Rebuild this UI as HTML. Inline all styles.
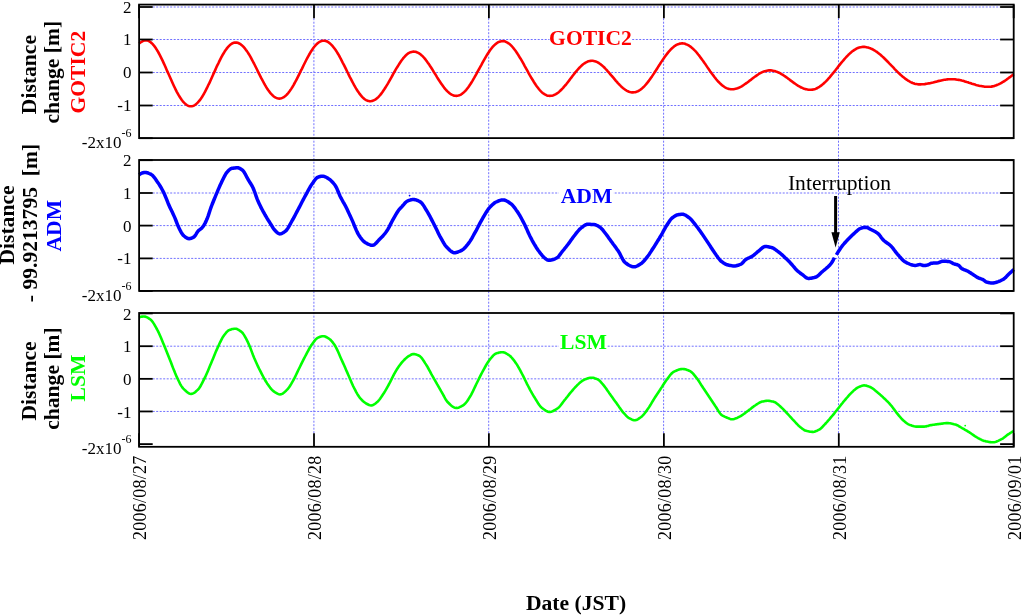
<!DOCTYPE html><html><head><meta charset="utf-8"><style>html,body{margin:0;padding:0;background:#fff;}svg{display:block;will-change:transform;}text{font-family:"Liberation Serif",serif;}</style></head><body>
<svg width="1024" height="616" viewBox="0 0 1024 616">
<rect width="1024" height="616" fill="#fff"/>
<line x1="152.7" y1="39.50" x2="1000.1" y2="39.50" stroke="#7070ff" stroke-width="1" stroke-dasharray="2 1.5"/>
<line x1="152.7" y1="72.50" x2="1000.1" y2="72.50" stroke="#7070ff" stroke-width="1" stroke-dasharray="2 1.5"/>
<line x1="152.7" y1="105.50" x2="1000.1" y2="105.50" stroke="#7070ff" stroke-width="1" stroke-dasharray="2 1.5"/>
<line x1="152.7" y1="193.00" x2="1000.1" y2="193.00" stroke="#7070ff" stroke-width="1" stroke-dasharray="2 1.5"/>
<line x1="152.7" y1="225.60" x2="1000.1" y2="225.60" stroke="#7070ff" stroke-width="1" stroke-dasharray="2 1.5"/>
<line x1="152.7" y1="258.40" x2="1000.1" y2="258.40" stroke="#7070ff" stroke-width="1" stroke-dasharray="2 1.5"/>
<line x1="152.7" y1="346.20" x2="1000.1" y2="346.20" stroke="#7070ff" stroke-width="1" stroke-dasharray="2 1.5"/>
<line x1="152.7" y1="378.85" x2="1000.1" y2="378.85" stroke="#7070ff" stroke-width="1" stroke-dasharray="2 1.5"/>
<line x1="152.7" y1="411.45" x2="1000.1" y2="411.45" stroke="#7070ff" stroke-width="1" stroke-dasharray="2 1.5"/>
<line x1="152.7" y1="7.00" x2="1000.1" y2="7.00" stroke="#7070ff" stroke-width="1" stroke-dasharray="2 1.5"/>
<line x1="313.90" y1="18.2" x2="313.90" y2="433.2" stroke="#7070ff" stroke-width="1" stroke-dasharray="2 1.5"/>
<line x1="488.70" y1="18.2" x2="488.70" y2="433.2" stroke="#7070ff" stroke-width="1" stroke-dasharray="2 1.5"/>
<line x1="663.60" y1="18.2" x2="663.60" y2="433.2" stroke="#7070ff" stroke-width="1" stroke-dasharray="2 1.5"/>
<line x1="838.50" y1="18.2" x2="838.50" y2="433.2" stroke="#7070ff" stroke-width="1" stroke-dasharray="2 1.5"/>
<rect x="549.5" y="28" width="82.5" height="19" fill="#fff"/>
<rect x="559" y="186" width="54.5" height="18" fill="#fff"/>
<rect x="559" y="332" width="48" height="18" fill="#fff"/>
<polyline points="139.1,43.6 140.2,42.7 141.3,42.0 142.4,41.3 143.5,40.7 144.6,40.4 145.7,40.3 146.7,40.4 147.7,40.6 148.7,41.0 149.7,41.6 150.7,42.3 151.7,43.2 152.7,44.2 153.7,45.3 154.7,46.6 155.7,48.0 156.7,49.6 157.7,51.2 158.7,53.0 159.7,54.8 160.7,56.8 161.7,58.8 162.7,60.9 163.7,63.1 164.7,65.3 165.7,67.6 166.7,69.9 167.7,72.1 168.8,74.5 169.8,76.7 170.8,79.0 171.8,81.3 172.8,83.5 173.8,85.7 174.8,87.8 175.8,89.8 176.8,91.8 177.8,93.6 178.8,95.4 179.8,97.0 180.8,98.6 181.8,100.0 182.8,101.3 183.8,102.4 184.8,103.4 185.8,104.3 186.8,105.0 187.8,105.6 188.8,106.0 189.8,106.2 190.8,106.3 191.8,106.2 192.8,106.0 193.9,105.6 194.9,105.0 195.9,104.3 196.9,103.4 197.9,102.4 199.0,101.2 200.0,99.9 201.0,98.5 202.0,97.0 203.0,95.3 204.1,93.5 205.1,91.6 206.1,89.7 207.1,87.7 208.1,85.5 209.2,83.4 210.2,81.2 211.2,78.9 212.2,76.7 213.2,74.4 214.3,72.1 215.3,69.9 216.3,67.6 217.3,65.4 218.4,63.3 219.4,61.1 220.4,59.1 221.4,57.2 222.4,55.3 223.5,53.5 224.5,51.8 225.5,50.3 226.5,48.9 227.5,47.6 228.6,46.4 229.6,45.4 230.6,44.5 231.6,43.8 232.6,43.2 233.7,42.8 234.7,42.6 235.7,42.5 236.7,42.6 237.7,42.8 238.7,43.2 239.8,43.7 240.8,44.4 241.8,45.2 242.8,46.1 243.8,47.2 244.8,48.3 245.8,49.7 246.9,51.1 247.9,52.6 248.9,54.2 249.9,55.9 250.9,57.7 251.9,59.6 252.9,61.5 254.0,63.5 255.0,65.5 256.0,67.5 257.0,69.5 258.0,71.6 259.0,73.6 260.0,75.6 261.0,77.6 262.1,79.6 263.1,81.5 264.1,83.4 265.1,85.2 266.1,86.9 267.1,88.5 268.1,90.0 269.2,91.4 270.2,92.8 271.2,93.9 272.2,95.0 273.2,95.9 274.2,96.7 275.2,97.4 276.3,97.9 277.3,98.3 278.3,98.5 279.3,98.6 280.3,98.5 281.3,98.3 282.3,97.9 283.3,97.4 284.3,96.8 285.3,96.0 286.3,95.1 287.4,94.0 288.4,92.8 289.4,91.5 290.4,90.1 291.4,88.6 292.4,87.0 293.4,85.3 294.4,83.5 295.4,81.7 296.4,79.8 297.4,77.8 298.4,75.8 299.4,73.8 300.4,71.7 301.5,69.7 302.5,67.6 303.5,65.5 304.5,63.5 305.5,61.5 306.5,59.5 307.5,57.6 308.5,55.8 309.5,54.0 310.5,52.3 311.5,50.7 312.5,49.2 313.5,47.8 314.5,46.5 315.5,45.3 316.6,44.2 317.6,43.3 318.6,42.5 319.6,41.9 320.6,41.4 321.6,41.0 322.6,40.8 323.6,40.7 324.6,40.8 325.6,41.0 326.6,41.3 327.7,41.8 328.7,42.4 329.7,43.2 330.7,44.1 331.7,45.1 332.7,46.2 333.7,47.5 334.7,48.8 335.8,50.3 336.8,51.9 337.8,53.5 338.8,55.2 339.8,57.0 340.8,58.9 341.8,60.8 342.8,62.8 343.9,64.8 344.9,66.8 345.9,68.9 346.9,71.0 347.9,73.0 348.9,75.1 349.9,77.1 351.0,79.1 352.0,81.1 353.0,83.0 354.0,84.9 355.0,86.7 356.0,88.4 357.0,90.0 358.0,91.6 359.1,93.1 360.1,94.4 361.1,95.7 362.1,96.8 363.1,97.8 364.1,98.7 365.1,99.5 366.1,100.1 367.2,100.6 368.2,100.9 369.2,101.1 370.2,101.2 371.2,101.1 372.2,100.9 373.2,100.6 374.2,100.1 375.2,99.6 376.3,98.9 377.3,98.0 378.3,97.1 379.3,96.0 380.3,94.9 381.3,93.6 382.3,92.3 383.3,90.8 384.3,89.3 385.3,87.7 386.3,86.1 387.4,84.4 388.4,82.7 389.4,80.9 390.4,79.1 391.4,77.3 392.4,75.5 393.4,73.7 394.4,71.9 395.4,70.1 396.4,68.4 397.5,66.7 398.5,65.1 399.5,63.5 400.5,62.0 401.5,60.5 402.5,59.2 403.5,57.9 404.5,56.8 405.5,55.7 406.5,54.8 407.5,53.9 408.6,53.2 409.6,52.7 410.6,52.2 411.6,51.9 412.6,51.7 413.6,51.6 414.6,51.7 415.6,51.8 416.7,52.2 417.7,52.6 418.7,53.1 419.7,53.8 420.7,54.6 421.7,55.4 422.8,56.4 423.8,57.5 424.8,58.7 425.8,59.9 426.8,61.3 427.8,62.7 428.9,64.1 429.9,65.7 430.9,67.2 431.9,68.8 432.9,70.4 433.9,72.1 435.0,73.8 436.0,75.4 437.0,77.1 438.0,78.7 439.0,80.3 440.0,81.8 441.1,83.4 442.1,84.8 443.1,86.2 444.1,87.6 445.1,88.8 446.1,90.0 447.2,91.1 448.2,92.1 449.2,92.9 450.2,93.7 451.2,94.4 452.2,94.9 453.2,95.3 454.3,95.7 455.3,95.8 456.3,95.9 457.3,95.8 458.3,95.6 459.3,95.3 460.3,94.9 461.3,94.3 462.3,93.6 463.3,92.8 464.3,91.9 465.3,90.9 466.3,89.8 467.3,88.5 468.3,87.2 469.3,85.8 470.3,84.3 471.3,82.7 472.3,81.1 473.3,79.4 474.3,77.7 475.3,75.9 476.3,74.1 477.3,72.2 478.3,70.4 479.4,68.5 480.4,66.6 481.4,64.8 482.4,62.9 483.4,61.1 484.4,59.3 485.4,57.6 486.4,55.9 487.4,54.3 488.4,52.7 489.4,51.2 490.4,49.8 491.4,48.5 492.4,47.2 493.4,46.1 494.4,45.1 495.4,44.2 496.4,43.4 497.4,42.7 498.4,42.1 499.4,41.7 500.4,41.4 501.4,41.2 502.4,41.1 503.4,41.2 504.4,41.3 505.4,41.6 506.4,42.1 507.4,42.6 508.5,43.3 509.5,44.0 510.5,44.9 511.5,45.9 512.5,47.0 513.5,48.2 514.5,49.5 515.5,50.8 516.5,52.2 517.5,53.8 518.5,55.3 519.5,57.0 520.6,58.7 521.6,60.4 522.6,62.1 523.6,63.9 524.6,65.8 525.6,67.6 526.6,69.4 527.6,71.2 528.6,73.1 529.6,74.9 530.6,76.6 531.6,78.3 532.7,80.0 533.7,81.7 534.7,83.2 535.7,84.8 536.7,86.2 537.7,87.5 538.7,88.8 539.7,90.0 540.7,91.1 541.7,92.1 542.7,93.0 543.7,93.7 544.8,94.4 545.8,94.9 546.8,95.4 547.8,95.7 548.8,95.8 549.8,95.9 550.8,95.8 551.8,95.7 552.9,95.4 553.9,95.1 554.9,94.6 555.9,94.1 557.0,93.4 558.0,92.7 559.0,91.9 560.0,91.0 561.0,90.0 562.1,89.0 563.1,87.9 564.1,86.7 565.1,85.5 566.2,84.3 567.2,83.0 568.2,81.7 569.2,80.4 570.2,79.0 571.3,77.7 572.3,76.3 573.3,75.0 574.3,73.7 575.3,72.4 576.4,71.2 577.4,70.0 578.4,68.8 579.4,67.7 580.5,66.7 581.5,65.7 582.5,64.8 583.5,64.0 584.5,63.3 585.6,62.6 586.6,62.1 587.6,61.6 588.6,61.3 589.7,61.0 590.7,60.9 591.7,60.8 592.7,60.8 593.7,61.0 594.7,61.2 595.7,61.5 596.7,61.9 597.7,62.4 598.8,63.0 599.8,63.7 600.8,64.4 601.8,65.2 602.8,66.1 603.8,67.0 604.8,68.0 605.8,69.1 606.8,70.1 607.8,71.3 608.8,72.4 609.8,73.6 610.8,74.8 611.8,76.0 612.9,77.2 613.9,78.4 614.9,79.6 615.9,80.8 616.9,81.9 617.9,83.1 618.9,84.1 619.9,85.2 620.9,86.2 621.9,87.1 622.9,88.0 623.9,88.8 624.9,89.5 625.9,90.2 627.0,90.8 628.0,91.3 629.0,91.7 630.0,92.0 631.0,92.2 632.0,92.4 633.0,92.4 634.0,92.3 635.0,92.2 636.0,91.9 637.0,91.6 638.0,91.2 639.0,90.6 640.0,90.0 641.0,89.2 642.0,88.4 643.0,87.5 644.0,86.6 645.0,85.5 646.0,84.4 647.0,83.2 648.0,81.9 649.0,80.6 650.0,79.2 651.0,77.8 652.0,76.4 653.0,74.9 654.0,73.4 655.0,71.8 656.0,70.3 657.0,68.7 658.0,67.1 659.0,65.5 660.0,64.0 661.0,62.4 662.0,60.9 663.0,59.4 664.0,58.0 665.0,56.6 666.0,55.2 667.0,53.9 668.0,52.6 669.0,51.4 670.0,50.3 671.0,49.2 672.0,48.3 673.0,47.4 674.0,46.6 675.0,45.8 676.0,45.2 677.0,44.6 678.0,44.2 679.0,43.9 680.0,43.6 681.0,43.5 682.0,43.4 683.0,43.4 684.0,43.6 685.0,43.8 686.0,44.2 687.1,44.6 688.1,45.1 689.1,45.7 690.1,46.4 691.1,47.1 692.1,48.0 693.1,48.9 694.1,49.9 695.2,50.9 696.2,52.0 697.2,53.2 698.2,54.5 699.2,55.7 700.2,57.1 701.2,58.4 702.2,59.8 703.3,61.2 704.3,62.7 705.3,64.1 706.3,65.6 707.3,67.1 708.3,68.6 709.3,70.0 710.3,71.5 711.4,72.9 712.4,74.3 713.4,75.6 714.4,77.0 715.4,78.2 716.4,79.5 717.4,80.7 718.4,81.8 719.5,82.8 720.5,83.8 721.5,84.7 722.5,85.6 723.5,86.3 724.5,87.0 725.5,87.6 726.5,88.1 727.6,88.5 728.6,88.9 729.6,89.1 730.6,89.3 731.6,89.3 732.6,89.3 733.6,89.2 734.6,89.0 735.6,88.8 736.6,88.5 737.6,88.2 738.7,87.8 739.7,87.3 740.7,86.8 741.7,86.3 742.7,85.7 743.7,85.0 744.7,84.3 745.7,83.6 746.7,82.9 747.7,82.2 748.7,81.4 749.7,80.6 750.8,79.9 751.8,79.1 752.8,78.3 753.8,77.5 754.8,76.8 755.8,76.1 756.8,75.4 757.8,74.7 758.8,74.0 759.8,73.4 760.8,72.9 761.8,72.4 762.8,71.9 763.9,71.5 764.9,71.2 765.9,70.9 766.9,70.7 767.9,70.5 768.9,70.4 769.9,70.4 770.9,70.4 771.9,70.5 772.9,70.7 773.9,70.9 775.0,71.1 776.0,71.5 777.0,71.8 778.0,72.3 779.0,72.7 780.0,73.2 781.0,73.8 782.0,74.4 783.1,75.0 784.1,75.7 785.1,76.4 786.1,77.1 787.1,77.8 788.1,78.6 789.1,79.3 790.1,80.1 791.2,80.9 792.2,81.6 793.2,82.4 794.2,83.1 795.2,83.8 796.2,84.5 797.2,85.2 798.2,85.8 799.3,86.4 800.3,87.0 801.3,87.5 802.3,87.9 803.3,88.4 804.3,88.7 805.3,89.1 806.4,89.3 807.4,89.5 808.4,89.7 809.4,89.8 810.4,89.8 811.4,89.8 812.4,89.6 813.4,89.5 814.4,89.2 815.4,88.9 816.4,88.5 817.4,88.0 818.4,87.4 819.4,86.8 820.4,86.1 821.4,85.4 822.4,84.6 823.4,83.7 824.4,82.8 825.4,81.9 826.4,80.9 827.4,79.8 828.4,78.7 829.4,77.6 830.4,76.4 831.4,75.2 832.4,74.0 833.4,72.8 834.4,71.5 835.4,70.3 836.4,69.0 837.4,67.7 838.4,66.4 839.4,65.2 840.4,63.9 841.4,62.7 842.4,61.5 843.4,60.3 844.4,59.1 845.4,58.0 846.4,56.9 847.4,55.8 848.4,54.8 849.4,53.9 850.4,53.0 851.4,52.1 852.4,51.3 853.4,50.6 854.4,49.9 855.4,49.3 856.4,48.7 857.4,48.2 858.4,47.8 859.4,47.5 860.4,47.2 861.4,47.1 862.4,46.9 863.4,46.9 864.4,46.9 865.4,47.0 866.4,47.2 867.4,47.4 868.4,47.6 869.4,48.0 870.4,48.3 871.4,48.8 872.4,49.2 873.4,49.8 874.4,50.4 875.4,51.0 876.4,51.7 877.5,52.4 878.5,53.2 879.5,54.0 880.5,54.8 881.5,55.7 882.5,56.6 883.5,57.5 884.5,58.5 885.5,59.5 886.5,60.5 887.5,61.5 888.5,62.5 889.5,63.6 890.5,64.6 891.5,65.7 892.5,66.7 893.5,67.7 894.5,68.8 895.5,69.8 896.5,70.8 897.5,71.8 898.5,72.8 899.5,73.8 900.5,74.7 901.5,75.6 902.5,76.5 903.5,77.3 904.5,78.1 905.5,78.9 906.6,79.6 907.6,80.3 908.6,80.9 909.6,81.5 910.6,82.1 911.6,82.5 912.6,83.0 913.6,83.3 914.6,83.7 915.6,83.9 916.6,84.1 917.6,84.3 918.6,84.4 919.6,84.4 920.6,84.4 921.7,84.3 922.7,84.3 923.7,84.2 924.7,84.1 925.8,83.9 926.8,83.8 927.8,83.6 928.9,83.4 929.9,83.2 930.9,82.9 931.9,82.7 933.0,82.5 934.0,82.2 935.0,81.9 936.1,81.7 937.1,81.4 938.1,81.1 939.2,80.9 940.2,80.7 941.2,80.4 942.2,80.2 943.3,80.0 944.3,79.8 945.3,79.7 946.4,79.5 947.4,79.4 948.4,79.3 949.4,79.3 950.5,79.2 951.5,79.2 952.5,79.2 953.5,79.3 954.6,79.3 955.6,79.4 956.6,79.6 957.6,79.7 958.7,79.9 959.7,80.1 960.7,80.3 961.7,80.6 962.7,80.8 963.8,81.1 964.8,81.4 965.8,81.7 966.8,82.0 967.9,82.3 968.9,82.7 969.9,83.0 970.9,83.3 971.9,83.7 973.0,84.0 974.0,84.3 975.0,84.6 976.0,84.9 977.1,85.2 978.1,85.4 979.1,85.7 980.1,85.9 981.1,86.1 982.2,86.3 983.2,86.4 984.2,86.6 985.2,86.7 986.3,86.7 987.3,86.8 988.3,86.8 989.3,86.8 990.3,86.7 991.3,86.6 992.4,86.4 993.4,86.2 994.4,85.9 995.4,85.6 996.4,85.2 997.4,84.8 998.5,84.4 999.5,83.9 1000.5,83.4 1001.5,82.8 1002.5,82.2 1003.5,81.6 1004.6,81.0 1005.6,80.3 1006.6,79.6 1007.6,78.8 1008.6,78.1 1009.6,77.3 1010.7,76.6 1011.7,75.8 1012.7,75.0 1013.7,74.2" fill="none" stroke="#ff0000" stroke-width="2.6" stroke-linejoin="round"/>
<polyline points="139.1,174.8 140.1,174.1 141.1,173.5 142.1,173.0 143.1,172.7 144.1,172.5 145.1,172.4 146.1,172.5 147.1,172.7 148.1,173.0 149.1,173.5 150.1,173.9 151.1,174.4 152.1,175.1 153.1,176.1 154.1,177.2 155.1,178.6 156.1,180.0 157.1,181.5 158.1,182.9 159.1,184.4 160.1,186.0 161.1,187.7 162.1,189.5 163.1,191.4 164.1,193.4 165.1,195.7 166.1,198.1 167.1,200.7 168.1,203.2 169.1,205.5 170.1,207.7 171.1,209.8 172.1,211.8 173.1,213.9 174.1,216.1 175.1,218.4 176.1,221.0 177.1,223.6 178.1,226.1 179.1,228.2 180.1,230.2 181.1,232.1 182.1,233.8 183.1,235.1 184.1,236.0 185.1,236.8 186.1,237.6 187.1,238.2 188.1,238.6 189.1,238.7 190.1,238.6 191.1,238.3 192.1,237.9 193.1,237.4 194.1,236.9 195.1,235.7 196.1,234.1 197.1,232.4 198.1,231.0 199.1,230.1 200.1,229.4 201.1,228.6 202.1,227.7 203.1,226.5 204.1,224.9 205.1,223.1 206.1,221.1 207.1,218.8 208.1,216.1 209.1,213.1 210.1,210.0 211.1,207.2 212.1,204.5 213.1,202.0 214.1,199.5 215.1,197.1 216.1,194.7 217.1,192.3 218.1,189.9 219.1,187.6 220.1,185.3 221.1,183.2 222.1,181.1 223.1,179.0 224.1,177.0 225.1,175.1 226.1,173.4 227.1,172.1 228.1,171.0 229.1,170.0 230.1,169.2 231.1,168.6 232.1,168.3 233.1,168.2 234.1,168.0 235.1,167.9 236.1,167.8 237.1,167.8 238.1,167.8 239.1,168.1 240.1,168.6 241.1,169.2 242.1,169.9 243.1,170.8 244.1,172.1 245.1,173.8 246.1,175.8 247.1,177.7 248.1,179.5 249.1,181.1 250.1,182.7 251.1,184.3 252.1,186.0 253.1,188.0 254.1,190.5 255.1,193.2 256.1,196.1 257.1,198.9 258.1,201.3 259.1,203.5 260.1,205.6 261.1,207.6 262.1,209.5 263.1,211.4 264.1,213.2 265.1,215.0 266.1,216.7 267.1,218.4 268.1,220.0 269.1,221.5 270.1,223.1 271.1,224.7 272.1,226.4 273.1,228.0 274.1,229.4 275.1,230.5 276.1,231.6 277.1,232.5 278.1,233.3 279.1,233.8 280.1,233.9 281.1,233.7 282.1,233.3 283.1,232.8 284.1,232.1 285.1,231.4 286.1,230.6 287.1,229.4 288.1,227.9 289.1,226.2 290.1,224.3 291.1,222.5 292.1,220.7 293.1,219.0 294.1,217.1 295.1,215.2 296.1,213.3 297.1,211.4 298.1,209.5 299.1,207.6 300.1,205.7 301.1,203.7 302.1,201.8 303.1,199.9 304.1,198.0 305.1,196.2 306.1,194.4 307.1,192.5 308.1,190.6 309.1,188.8 310.1,187.0 311.1,185.4 312.1,183.9 313.1,182.5 314.1,181.0 315.1,179.7 316.1,178.5 317.1,177.6 318.1,177.1 319.1,176.8 320.1,176.5 321.1,176.3 322.1,176.2 323.1,176.2 324.1,176.4 325.1,176.8 326.1,177.3 327.1,177.8 328.1,178.5 329.1,179.1 330.1,179.8 331.1,180.7 332.1,181.7 333.1,182.8 334.1,184.0 335.1,185.3 336.1,187.0 337.1,189.1 338.1,191.5 339.1,193.9 340.1,196.2 341.1,198.2 342.1,200.0 343.1,201.8 344.1,203.5 345.1,205.3 346.1,207.3 347.1,209.3 348.1,211.4 349.1,213.6 350.1,215.7 351.1,217.9 352.1,220.1 353.1,222.4 354.1,224.8 355.1,227.3 356.1,229.7 357.1,231.9 358.1,233.9 359.1,235.5 360.1,237.0 361.1,238.4 362.1,239.6 363.1,240.7 364.1,241.7 365.1,242.4 366.1,243.0 367.1,243.6 368.1,244.1 369.1,244.5 370.1,244.9 371.1,245.2 372.1,245.3 373.1,245.2 374.1,244.8 375.1,244.0 376.1,243.1 377.1,242.0 378.1,240.9 379.1,239.8 380.1,238.8 381.1,237.8 382.1,236.8 383.1,235.7 384.1,234.5 385.1,233.3 386.1,232.0 387.1,230.6 388.1,228.9 389.1,227.1 390.1,225.1 391.1,223.1 392.1,221.2 393.1,219.4 394.1,217.6 395.1,215.9 396.1,214.2 397.1,212.5 398.1,211.0 399.1,209.6 400.1,208.5 401.1,207.4 402.1,206.4 403.1,205.2 404.1,204.1 405.1,202.9 406.1,202.0 407.1,201.2 408.1,200.7 409.1,200.4 410.1,200.1 411.1,199.8 412.1,199.6 413.1,199.5 414.1,199.5 415.1,199.7 416.1,199.9 417.1,200.3 418.1,200.7 419.1,201.2 420.1,201.8 421.1,202.5 422.1,203.5 423.1,204.9 424.1,206.4 425.1,208.1 426.1,209.8 427.1,211.4 428.1,213.1 429.1,214.9 430.1,216.7 431.1,218.6 432.1,220.6 433.1,222.5 434.1,224.5 435.1,226.5 436.1,228.5 437.1,230.6 438.1,232.7 439.1,234.7 440.1,236.6 441.1,238.4 442.1,240.2 443.1,242.0 444.1,243.6 445.1,245.2 446.1,246.5 447.1,247.5 448.1,248.5 449.1,249.6 450.1,250.5 451.1,251.3 452.1,252.0 453.1,252.5 454.1,252.7 455.1,252.7 456.1,252.5 457.1,252.3 458.1,251.9 459.1,251.5 460.1,251.1 461.1,250.6 462.1,250.1 463.1,249.4 464.1,248.6 465.1,247.6 466.1,246.4 467.1,245.2 468.1,243.9 469.1,242.6 470.1,241.1 471.1,239.5 472.1,237.8 473.1,236.0 474.1,234.2 475.1,232.4 476.1,230.6 477.1,228.7 478.1,226.8 479.1,224.9 480.1,222.9 481.1,221.1 482.1,219.3 483.1,217.5 484.1,215.8 485.1,214.1 486.1,212.5 487.1,210.9 488.1,209.4 489.1,208.2 490.1,207.0 491.1,206.0 492.1,205.0 493.1,204.1 494.1,203.2 495.1,202.5 496.1,202.0 497.1,201.6 498.1,201.1 499.1,200.7 500.1,200.4 501.1,200.1 502.1,200.0 503.1,199.9 504.1,200.0 505.1,200.3 506.1,200.7 507.1,201.2 508.1,201.8 509.1,202.5 510.1,203.2 511.1,203.9 512.1,204.8 513.1,205.9 514.1,207.1 515.1,208.4 516.1,209.9 517.1,211.3 518.1,212.8 519.1,214.4 520.1,216.0 521.1,217.8 522.1,219.7 523.1,221.6 524.1,223.5 525.1,225.5 526.1,227.7 527.1,229.9 528.1,232.2 529.1,234.4 530.1,236.5 531.1,238.4 532.1,240.3 533.1,242.1 534.1,243.9 535.1,245.5 536.1,247.2 537.1,248.7 538.1,250.2 539.1,251.5 540.1,252.9 541.1,254.2 542.1,255.4 543.1,256.5 544.1,257.5 545.1,258.3 546.1,259.1 547.1,259.8 548.1,260.2 549.1,260.3 550.1,260.2 551.1,260.1 552.1,259.8 553.1,259.5 554.1,259.2 555.1,258.8 556.1,258.3 557.1,257.8 558.1,257.0 559.1,255.7 560.1,254.4 561.1,253.0 562.1,251.7 563.1,250.5 564.1,249.3 565.1,248.0 566.1,246.8 567.1,245.5 568.1,244.2 569.1,242.9 570.1,241.5 571.1,240.1 572.1,238.7 573.1,237.3 574.1,236.0 575.1,234.7 576.1,233.4 577.1,232.2 578.1,231.0 579.1,229.8 580.1,228.8 581.1,228.0 582.1,227.2 583.1,226.5 584.1,225.7 585.1,225.1 586.1,224.6 587.1,224.3 588.1,224.3 589.1,224.3 590.1,224.3 591.1,224.4 592.1,224.4 593.1,224.5 594.1,224.6 595.1,224.7 596.1,225.1 597.1,225.5 598.1,226.1 599.1,226.7 600.1,227.3 601.1,228.2 602.1,229.2 603.1,230.4 604.1,231.7 605.1,233.0 606.1,234.3 607.1,235.6 608.1,237.0 609.1,238.4 610.1,239.8 611.1,241.2 612.1,242.6 613.1,244.0 614.1,245.3 615.1,246.6 616.1,248.0 617.1,249.4 618.1,250.8 619.1,252.4 620.1,254.2 621.1,256.2 622.1,258.2 623.1,260.0 624.1,261.5 625.1,262.5 626.1,263.3 627.1,264.0 628.1,264.7 629.1,265.3 630.1,265.8 631.1,266.2 632.1,266.6 633.1,266.8 634.1,266.8 635.1,266.7 636.1,266.4 637.1,266.0 638.1,265.4 639.1,264.9 640.1,264.2 641.1,263.6 642.1,262.8 643.1,261.9 644.1,260.8 645.1,259.6 646.1,258.4 647.1,257.1 648.1,255.8 649.1,254.4 650.1,252.9 651.1,251.4 652.1,249.8 653.1,248.2 654.1,246.7 655.1,245.1 656.1,243.5 657.1,241.9 658.1,240.3 659.1,238.7 660.1,237.0 661.1,235.3 662.1,233.6 663.1,231.7 664.1,229.9 665.1,228.1 666.1,226.4 667.1,224.8 668.1,223.2 669.1,221.7 670.1,220.2 671.1,219.0 672.1,218.0 673.1,217.3 674.1,216.5 675.1,215.9 676.1,215.4 677.1,214.9 678.1,214.7 679.1,214.5 680.1,214.4 681.1,214.3 682.1,214.3 683.1,214.3 684.1,214.6 685.1,215.0 686.1,215.6 687.1,216.3 688.1,217.0 689.1,217.7 690.1,218.5 691.1,219.5 692.1,220.6 693.1,221.9 694.1,223.1 695.1,224.4 696.1,225.7 697.1,227.0 698.1,228.3 699.1,229.7 700.1,231.1 701.1,232.5 702.1,233.9 703.1,235.4 704.1,236.9 705.1,238.4 706.1,239.9 707.1,241.4 708.1,242.9 709.1,244.4 710.1,245.9 711.1,247.5 712.1,249.0 713.1,250.6 714.1,252.0 715.1,253.4 716.1,254.9 717.1,256.3 718.1,257.7 719.1,259.0 720.1,260.2 721.1,261.2 722.1,261.9 723.1,262.7 724.1,263.3 725.1,263.9 726.1,264.4 727.1,264.8 728.1,265.0 729.1,265.3 730.1,265.5 731.1,265.6 732.1,265.8 733.1,265.9 734.1,265.9 735.1,265.9 736.1,265.8 737.1,265.5 738.1,265.3 739.1,264.9 740.1,264.5 741.1,264.1 742.1,263.4 743.1,262.3 744.1,261.1 745.1,260.1 746.1,259.3 747.1,258.7 748.1,258.2 749.1,257.8 750.1,257.3 751.1,256.9 752.1,256.3 753.1,255.7 754.1,254.9 755.1,254.0 756.1,253.2 757.1,252.3 758.1,251.4 759.1,250.7 760.1,249.8 761.1,248.9 762.1,248.0 763.1,247.3 764.1,246.7 765.1,246.5 766.1,246.5 767.1,246.6 768.1,246.8 769.1,247.0 770.1,247.2 771.1,247.4 772.1,247.7 773.1,248.1 774.1,248.7 775.1,249.4 776.1,250.1 777.1,250.9 778.1,251.6 779.1,252.4 780.1,253.2 781.1,254.0 782.1,254.9 783.1,255.8 784.1,256.7 785.1,257.7 786.1,258.6 787.1,259.6 788.1,260.6 789.1,261.6 790.1,262.6 791.1,263.7 792.1,264.8 793.1,266.0 794.1,267.2 795.1,268.4 796.1,269.5 797.1,270.5 798.1,271.4 799.1,272.2 800.1,273.0 801.1,273.7 802.1,274.4 803.1,275.2 804.1,276.0 805.1,276.8 806.1,277.6 807.1,278.1 808.1,278.4 809.1,278.4 810.1,278.3 811.1,278.2 812.1,278.0 813.1,277.8 814.1,277.6 815.1,277.3 816.1,277.0 817.1,276.4 818.1,275.6 819.1,274.7 820.1,273.7 821.1,272.7 822.1,271.8 823.1,271.0 824.1,270.2 825.1,269.3 826.1,268.5 827.1,267.6 828.1,266.7 829.1,265.7 830.1,264.7 831.1,263.5 832.1,262.0 833.1,260.3 834.1,258.3 834.4,257.6" fill="none" stroke="#0000ff" stroke-width="3.5" stroke-linejoin="round"/>
<polyline points="836.4,254.8 837.4,253.1 838.4,251.5 839.4,250.0 840.4,248.5 841.4,247.1 842.4,245.7 843.4,244.5 844.4,243.3 845.4,242.2 846.4,241.1 847.4,240.0 848.4,239.0 849.4,238.0 850.4,237.0 851.4,236.0 852.4,235.0 853.4,234.1 854.4,233.2 855.4,232.3 856.4,231.4 857.4,230.5 858.4,229.6 859.4,228.9 860.4,228.5 861.4,228.1 862.4,227.8 863.4,227.6 864.4,227.4 865.4,227.3 866.4,227.4 867.4,227.6 868.4,228.1 869.4,228.7 870.4,229.3 871.4,229.8 872.4,230.3 873.4,230.8 874.4,231.3 875.4,231.8 876.4,232.4 877.4,233.1 878.4,233.9 879.4,235.0 880.4,236.3 881.4,237.7 882.4,239.0 883.4,240.1 884.4,241.0 885.4,241.8 886.4,242.5 887.4,243.2 888.4,243.9 889.4,244.7 890.4,245.5 891.4,246.5 892.4,247.7 893.4,248.9 894.4,250.3 895.4,251.6 896.4,252.9 897.4,254.1 898.4,255.2 899.4,256.4 900.4,257.5 901.4,258.6 902.4,259.7 903.4,260.6 904.4,261.4 905.4,262.0 906.4,262.6 907.4,263.1 908.4,263.5 909.4,264.0 910.4,264.4 911.4,264.7 912.4,265.0 913.4,265.2 914.4,265.4 915.4,265.4 916.4,265.3 917.4,265.1 918.4,264.8 919.4,264.6 920.4,264.6 921.4,264.9 922.4,265.2 923.4,265.5 924.4,265.6 925.4,265.5 926.4,265.3 927.4,265.1 928.4,264.8 929.4,264.3 930.4,263.6 931.4,263.2 932.4,263.2 933.4,263.1 934.4,263.1 935.4,263.1 936.4,263.0 937.4,262.9 938.4,262.7 939.4,262.3 940.4,261.9 941.4,261.5 942.4,261.3 943.4,261.3 944.4,261.3 945.4,261.3 946.4,261.3 947.4,261.4 948.4,261.4 949.4,261.6 950.4,262.0 951.4,262.5 952.4,263.1 953.4,263.6 954.4,264.0 955.4,264.3 956.4,264.5 957.4,264.8 958.4,265.3 959.4,266.0 960.4,267.2 961.4,268.3 962.4,268.9 963.4,269.4 964.4,269.8 965.4,270.2 966.4,270.6 967.4,271.0 968.4,271.6 969.4,272.2 970.4,272.8 971.4,273.5 972.4,274.1 973.4,274.8 974.4,275.4 975.4,276.1 976.4,276.8 977.4,277.4 978.4,277.9 979.4,278.3 980.4,278.6 981.4,279.0 982.4,279.4 983.4,279.9 984.4,280.6 985.4,281.5 986.4,282.1 987.4,282.3 988.4,282.5 989.4,282.7 990.4,282.9 991.4,282.9 992.4,283.0 993.4,283.0 994.4,282.8 995.4,282.6 996.4,282.3 997.4,281.9 998.4,281.6 999.4,281.2 1000.4,280.8 1001.4,280.3 1002.4,279.8 1003.4,279.2 1004.4,278.5 1005.4,277.7 1006.4,276.6 1007.4,275.5 1008.4,274.5 1009.4,273.5 1010.4,272.6 1011.4,271.7 1012.4,270.8 1013.4,269.9 1013.7,269.6" fill="none" stroke="#0000ff" stroke-width="3.5" stroke-linejoin="round"/>
<polyline points="139.1,317.6 140.1,317.1 141.1,316.8 142.1,316.6 143.1,316.5 144.1,316.5 145.1,316.6 146.1,316.9 147.1,317.4 148.1,317.9 149.1,318.6 150.1,319.3 151.1,320.1 152.1,321.2 153.1,322.6 154.1,324.1 155.1,325.9 156.1,327.7 157.1,329.5 158.1,331.4 159.1,333.5 160.1,335.8 161.1,338.1 162.1,340.5 163.1,342.9 164.1,345.3 165.1,347.7 166.1,350.2 167.1,352.7 168.1,355.3 169.1,357.8 170.1,360.3 171.1,362.8 172.1,365.5 173.1,368.1 174.1,370.6 175.1,373.1 176.1,375.4 177.1,377.6 178.1,379.7 179.1,381.8 180.1,383.8 181.1,385.6 182.1,387.1 183.1,388.3 184.1,389.3 185.1,390.3 186.1,391.2 187.1,392.1 188.1,392.8 189.1,393.4 190.1,393.7 191.1,393.9 192.1,393.8 193.1,393.4 194.1,392.9 195.1,392.2 196.1,391.3 197.1,390.4 198.1,389.5 199.1,388.3 200.1,386.8 201.1,385.0 202.1,383.1 203.1,381.2 204.1,379.2 205.1,377.2 206.1,375.0 207.1,372.7 208.1,370.4 209.1,368.0 210.1,365.6 211.1,363.2 212.1,360.8 213.1,358.4 214.1,355.9 215.1,353.5 216.1,351.1 217.1,348.9 218.1,346.7 219.1,344.5 220.1,342.3 221.1,340.3 222.1,338.4 223.1,336.7 224.1,335.3 225.1,334.0 226.1,332.7 227.1,331.6 228.1,330.7 229.1,330.1 230.1,329.7 231.1,329.4 232.1,329.1 233.1,328.9 234.1,328.7 235.1,328.7 236.1,328.8 237.1,329.1 238.1,329.6 239.1,330.2 240.1,330.9 241.1,331.6 242.1,332.4 243.1,333.6 244.1,335.1 245.1,336.8 246.1,338.7 247.1,340.7 248.1,342.7 249.1,344.9 250.1,347.3 251.1,349.9 252.1,352.6 253.1,355.3 254.1,357.8 255.1,360.1 256.1,362.3 257.1,364.5 258.1,366.6 259.1,368.7 260.1,370.7 261.1,372.7 262.1,374.6 263.1,376.5 264.1,378.4 265.1,380.2 266.1,381.8 267.1,383.4 268.1,384.8 269.1,386.2 270.1,387.6 271.1,388.8 272.1,390.0 273.1,390.9 274.1,391.6 275.1,392.3 276.1,392.9 277.1,393.5 278.1,393.9 279.1,394.2 280.1,394.4 281.1,394.3 282.1,393.9 283.1,393.3 284.1,392.5 285.1,391.6 286.1,390.7 287.1,389.7 288.1,388.6 289.1,387.2 290.1,385.7 291.1,384.1 292.1,382.4 293.1,380.7 294.1,378.8 295.1,376.8 296.1,374.7 297.1,372.6 298.1,370.5 299.1,368.5 300.1,366.5 301.1,364.4 302.1,362.4 303.1,360.4 304.1,358.4 305.1,356.5 306.1,354.6 307.1,352.7 308.1,350.8 309.1,349.0 310.1,347.2 311.1,345.6 312.1,344.2 313.1,342.8 314.1,341.4 315.1,340.1 316.1,339.0 317.1,338.2 318.1,337.7 319.1,337.2 320.1,336.8 321.1,336.5 322.1,336.3 323.1,336.2 324.1,336.3 325.1,336.5 326.1,337.0 327.1,337.5 328.1,338.1 329.1,338.8 330.1,339.5 331.1,340.5 332.1,341.7 333.1,342.9 334.1,344.3 335.1,345.8 336.1,347.6 337.1,349.6 338.1,351.8 339.1,354.1 340.1,356.4 341.1,358.7 342.1,360.9 343.1,363.1 344.1,365.3 345.1,367.6 346.1,369.9 347.1,372.1 348.1,374.4 349.1,376.7 350.1,379.1 351.1,381.5 352.1,383.8 353.1,386.0 354.1,388.0 355.1,389.9 356.1,391.8 357.1,393.6 358.1,395.3 359.1,396.8 360.1,398.1 361.1,399.2 362.1,400.3 363.1,401.2 364.1,402.0 365.1,402.8 366.1,403.5 367.1,404.0 368.1,404.5 369.1,405.0 370.1,405.3 371.1,405.5 372.1,405.4 373.1,405.0 374.1,404.4 375.1,403.7 376.1,402.9 377.1,402.1 378.1,401.2 379.1,400.0 380.1,398.7 381.1,397.3 382.1,395.8 383.1,394.2 384.1,392.7 385.1,391.1 386.1,389.4 387.1,387.6 388.1,385.8 389.1,384.0 390.1,382.1 391.1,380.2 392.1,378.2 393.1,376.2 394.1,374.2 395.1,372.4 396.1,370.6 397.1,369.0 398.1,367.5 399.1,366.1 400.1,364.7 401.1,363.4 402.1,362.2 403.1,361.1 404.1,360.0 405.1,359.0 406.1,358.1 407.1,357.2 408.1,356.4 409.1,355.8 410.1,355.3 411.1,354.7 412.1,354.3 413.1,354.1 414.1,354.1 415.1,354.3 416.1,354.5 417.1,354.9 418.1,355.3 419.1,355.7 420.1,356.3 421.1,357.3 422.1,358.6 423.1,360.0 424.1,361.5 425.1,363.1 426.1,364.6 427.1,366.2 428.1,368.0 429.1,369.8 430.1,371.7 431.1,373.6 432.1,375.4 433.1,377.1 434.1,378.9 435.1,380.6 436.1,382.3 437.1,384.1 438.1,385.8 439.1,387.6 440.1,389.4 441.1,391.2 442.1,392.9 443.1,394.7 444.1,396.5 445.1,398.4 446.1,400.1 447.1,401.5 448.1,402.5 449.1,403.5 450.1,404.5 451.1,405.4 452.1,406.2 453.1,406.9 454.1,407.4 455.1,407.7 456.1,407.9 457.1,407.9 458.1,407.7 459.1,407.4 460.1,406.9 461.1,406.5 462.1,405.9 463.1,405.3 464.1,404.7 465.1,403.7 466.1,402.5 467.1,401.2 468.1,399.7 469.1,398.1 470.1,396.5 471.1,394.8 472.1,392.9 473.1,390.9 474.1,388.7 475.1,386.6 476.1,384.5 477.1,382.5 478.1,380.5 479.1,378.4 480.1,376.4 481.1,374.4 482.1,372.5 483.1,370.6 484.1,368.8 485.1,367.0 486.1,365.2 487.1,363.5 488.1,361.9 489.1,360.5 490.1,359.2 491.1,358.0 492.1,356.8 493.1,355.6 494.1,354.7 495.1,353.9 496.1,353.5 497.1,353.1 498.1,352.9 499.1,352.6 500.1,352.4 501.1,352.3 502.1,352.2 503.1,352.2 504.1,352.5 505.1,352.8 506.1,353.4 507.1,354.0 508.1,354.6 509.1,355.3 510.1,356.0 511.1,357.0 512.1,358.1 513.1,359.3 514.1,360.6 515.1,362.0 516.1,363.4 517.1,364.9 518.1,366.6 519.1,368.4 520.1,370.2 521.1,372.1 522.1,374.0 523.1,375.9 524.1,377.9 525.1,380.0 526.1,382.0 527.1,384.1 528.1,386.0 529.1,387.9 530.1,389.8 531.1,391.6 532.1,393.4 533.1,395.1 534.1,396.8 535.1,398.4 536.1,400.0 537.1,401.6 538.1,403.2 539.1,404.7 540.1,406.1 541.1,407.2 542.1,408.0 543.1,408.8 544.1,409.5 545.1,410.2 546.1,410.8 547.1,411.3 548.1,411.7 549.1,411.9 550.1,411.9 551.1,411.7 552.1,411.4 553.1,411.0 554.1,410.5 555.1,410.0 556.1,409.3 557.1,408.7 558.1,408.0 559.1,407.1 560.1,406.0 561.1,404.7 562.1,403.4 563.1,402.0 564.1,400.7 565.1,399.5 566.1,398.2 567.1,397.0 568.1,395.7 569.1,394.4 570.1,393.2 571.1,392.0 572.1,390.8 573.1,389.6 574.1,388.5 575.1,387.4 576.1,386.3 577.1,385.3 578.1,384.4 579.1,383.4 580.1,382.5 581.1,381.7 582.1,380.9 583.1,380.3 584.1,379.8 585.1,379.4 586.1,379.0 587.1,378.6 588.1,378.3 589.1,378.0 590.1,377.8 591.1,377.7 592.1,377.7 593.1,377.8 594.1,378.1 595.1,378.4 596.1,378.7 597.1,379.1 598.1,379.6 599.1,380.3 600.1,381.2 601.1,382.3 602.1,383.5 603.1,384.7 604.1,385.9 605.1,387.2 606.1,388.5 607.1,390.0 608.1,391.4 609.1,392.9 610.1,394.3 611.1,395.7 612.1,397.1 613.1,398.5 614.1,399.9 615.1,401.3 616.1,402.6 617.1,404.0 618.1,405.4 619.1,406.9 620.1,408.3 621.1,409.7 622.1,411.1 623.1,412.3 624.1,413.4 625.1,414.5 626.1,415.6 627.1,416.6 628.1,417.5 629.1,418.2 630.1,418.7 631.1,419.2 632.1,419.7 633.1,420.0 634.1,420.3 635.1,420.3 636.1,420.1 637.1,419.7 638.1,419.1 639.1,418.4 640.1,417.7 641.1,417.0 642.1,416.2 643.1,415.2 644.1,414.0 645.1,412.7 646.1,411.4 647.1,410.0 648.1,408.6 649.1,407.1 650.1,405.5 651.1,403.9 652.1,402.2 653.1,400.5 654.1,398.9 655.1,397.3 656.1,395.7 657.1,394.2 658.1,392.7 659.1,391.2 660.1,389.7 661.1,388.1 662.1,386.6 663.1,385.0 664.1,383.5 665.1,382.0 666.1,380.5 667.1,379.2 668.1,377.9 669.1,376.5 670.1,375.2 671.1,374.0 672.1,373.0 673.1,372.2 674.1,371.6 675.1,371.1 676.1,370.7 677.1,370.3 678.1,369.9 679.1,369.5 680.1,369.3 681.1,369.1 682.1,369.0 683.1,369.0 684.1,369.1 685.1,369.3 686.1,369.6 687.1,369.9 688.1,370.3 689.1,370.7 690.1,371.2 691.1,371.8 692.1,372.7 693.1,373.7 694.1,374.9 695.1,376.1 696.1,377.4 697.1,378.6 698.1,380.0 699.1,381.5 700.1,383.1 701.1,384.7 702.1,386.2 703.1,387.8 704.1,389.3 705.1,390.8 706.1,392.3 707.1,393.8 708.1,395.3 709.1,396.8 710.1,398.3 711.1,399.8 712.1,401.3 713.1,402.8 714.1,404.3 715.1,405.8 716.1,407.2 717.1,408.8 718.1,410.5 719.1,412.1 720.1,413.5 721.1,414.6 722.1,415.3 723.1,415.9 724.1,416.4 725.1,416.9 726.1,417.3 727.1,417.7 728.1,418.1 729.1,418.5 730.1,418.9 731.1,419.2 732.1,419.3 733.1,419.2 734.1,419.0 735.1,418.6 736.1,418.2 737.1,417.9 738.1,417.4 739.1,416.9 740.1,416.4 741.1,415.8 742.1,415.2 743.1,414.5 744.1,413.8 745.1,413.1 746.1,412.3 747.1,411.5 748.1,410.7 749.1,409.9 750.1,409.2 751.1,408.4 752.1,407.6 753.1,406.9 754.1,406.1 755.1,405.5 756.1,404.8 757.1,404.1 758.1,403.5 759.1,402.9 760.1,402.3 761.1,401.9 762.1,401.6 763.1,401.4 764.1,401.2 765.1,401.0 766.1,400.9 767.1,400.8 768.1,400.8 769.1,400.9 770.1,401.0 771.1,401.2 772.1,401.4 773.1,401.6 774.1,401.9 775.1,402.3 776.1,402.9 777.1,403.7 778.1,404.5 779.1,405.4 780.1,406.3 781.1,407.2 782.1,408.1 783.1,409.1 784.1,410.2 785.1,411.2 786.1,412.3 787.1,413.3 788.1,414.4 789.1,415.5 790.1,416.6 791.1,417.7 792.1,418.8 793.1,419.8 794.1,420.9 795.1,422.0 796.1,423.1 797.1,424.2 798.1,425.2 799.1,426.1 800.1,427.0 801.1,427.8 802.1,428.6 803.1,429.3 804.1,430.0 805.1,430.5 806.1,430.8 807.1,431.1 808.1,431.3 809.1,431.5 810.1,431.7 811.1,431.8 812.1,431.9 813.1,431.9 814.1,431.7 815.1,431.4 816.1,431.1 817.1,430.7 818.1,430.2 819.1,429.7 820.1,429.1 821.1,428.2 822.1,427.3 823.1,426.2 824.1,425.1 825.1,424.0 826.1,423.0 827.1,421.9 828.1,420.7 829.1,419.6 830.1,418.4 831.1,417.2 832.1,416.0 833.1,414.8 834.1,413.6 835.1,412.3 836.1,411.0 837.1,409.8 838.1,408.5 839.1,407.3 840.1,406.0 841.1,404.7 842.1,403.5 843.1,402.2 844.1,401.0 845.1,399.8 846.1,398.6 847.1,397.5 848.1,396.3 849.1,395.2 850.1,394.1 851.1,393.1 852.1,392.1 853.1,391.2 854.1,390.2 855.1,389.4 856.1,388.6 857.1,387.9 858.1,387.4 859.1,386.9 860.1,386.5 861.1,386.1 862.1,385.7 863.1,385.5 864.1,385.4 865.1,385.5 866.1,385.6 867.1,385.9 868.1,386.2 869.1,386.6 870.1,387.0 871.1,387.5 872.1,388.1 873.1,388.8 874.1,389.6 875.1,390.4 876.1,391.3 877.1,392.1 878.1,392.9 879.1,393.8 880.1,394.6 881.1,395.5 882.1,396.4 883.1,397.3 884.1,398.3 885.1,399.2 886.1,400.2 887.1,401.1 888.1,402.2 889.1,403.2 890.1,404.3 891.1,405.5 892.1,406.7 893.1,408.0 894.1,409.4 895.1,410.7 896.1,412.1 897.1,413.4 898.1,414.6 899.1,415.8 900.1,417.0 901.1,418.2 902.1,419.3 903.1,420.2 904.1,421.1 905.1,421.9 906.1,422.7 907.1,423.5 908.1,424.1 909.1,424.6 910.1,425.0 911.1,425.3 912.1,425.7 913.1,426.0 914.1,426.3 915.1,426.5 916.1,426.6 917.1,426.6 918.1,426.6 919.1,426.6 920.1,426.6 921.1,426.6 922.1,426.6 923.1,426.6 924.1,426.6 925.1,426.5 926.1,426.4 927.1,426.1 928.1,425.9 929.1,425.6 930.1,425.3 931.1,425.1 932.1,425.0 933.1,424.8 934.1,424.7 935.1,424.5 936.1,424.4 937.1,424.3 938.1,424.1 939.1,424.0 940.1,423.9 941.1,423.8 942.1,423.6 943.1,423.5 944.1,423.3 945.1,423.2 946.1,423.1 947.1,423.1 948.1,423.1 949.1,423.2 950.1,423.3 951.1,423.5 952.1,423.7 953.1,423.9 954.1,424.2 955.1,424.4 956.1,424.8 957.1,425.2 958.1,425.7 959.1,426.3 960.1,426.9 961.1,427.5 962.1,428.1 963.1,428.6 964.1,429.2 965.1,429.8 966.1,430.3 967.1,430.9 968.1,431.6 969.1,432.2 970.1,432.8 971.1,433.5 972.1,434.2 973.1,434.9 974.1,435.6 975.1,436.3 976.1,436.9 977.1,437.5 978.1,438.1 979.1,438.6 980.1,439.2 981.1,439.7 982.1,440.2 983.1,440.6 984.1,440.9 985.1,441.1 986.1,441.4 987.1,441.6 988.1,441.8 989.1,442.0 990.1,442.1 991.1,442.2 992.1,442.3 993.1,442.3 994.1,442.2 995.1,442.0 996.1,441.7 997.1,441.3 998.1,440.9 999.1,440.4 1000.1,439.9 1001.1,439.4 1002.1,438.9 1003.1,438.3 1004.1,437.5 1005.1,436.7 1006.1,435.9 1007.1,435.1 1008.1,434.4 1009.1,433.8 1010.1,433.1 1011.1,432.5 1012.1,431.9 1013.1,431.3 1013.7,430.9" fill="none" stroke="#00ff00" stroke-width="2.6" stroke-linejoin="round"/>
<circle cx="409.6" cy="195.6" r="0.9" fill="#0000ff"/>
<circle cx="965.2" cy="425.6" r="0.9" fill="#00ff00"/>
<rect x="139.1" y="4.6" width="874.6" height="133.5" stroke="#000" stroke-width="1.8" fill="none"/>
<line x1="139.1" y1="7.00" x2="152.7" y2="7.00" stroke="#000" stroke-width="1.8" fill="none"/>
<line x1="1000.1" y1="7.00" x2="1013.7" y2="7.00" stroke="#000" stroke-width="1.8" fill="none"/>
<line x1="139.1" y1="39.50" x2="152.7" y2="39.50" stroke="#000" stroke-width="1.8" fill="none"/>
<line x1="1000.1" y1="39.50" x2="1013.7" y2="39.50" stroke="#000" stroke-width="1.8" fill="none"/>
<line x1="139.1" y1="72.50" x2="152.7" y2="72.50" stroke="#000" stroke-width="1.8" fill="none"/>
<line x1="1000.1" y1="72.50" x2="1013.7" y2="72.50" stroke="#000" stroke-width="1.8" fill="none"/>
<line x1="139.1" y1="105.50" x2="152.7" y2="105.50" stroke="#000" stroke-width="1.8" fill="none"/>
<line x1="1000.1" y1="105.50" x2="1013.7" y2="105.50" stroke="#000" stroke-width="1.8" fill="none"/>
<line x1="139.1" y1="138.20" x2="152.7" y2="138.20" stroke="#000" stroke-width="1.8" fill="none"/>
<line x1="1000.1" y1="138.20" x2="1013.7" y2="138.20" stroke="#000" stroke-width="1.8" fill="none"/>
<rect x="139.1" y="160.0" width="874.6" height="130.9" stroke="#000" stroke-width="1.8" fill="none"/>
<line x1="139.1" y1="160.20" x2="152.7" y2="160.20" stroke="#000" stroke-width="1.8" fill="none"/>
<line x1="1000.1" y1="160.20" x2="1013.7" y2="160.20" stroke="#000" stroke-width="1.8" fill="none"/>
<line x1="139.1" y1="193.00" x2="152.7" y2="193.00" stroke="#000" stroke-width="1.8" fill="none"/>
<line x1="1000.1" y1="193.00" x2="1013.7" y2="193.00" stroke="#000" stroke-width="1.8" fill="none"/>
<line x1="139.1" y1="225.60" x2="152.7" y2="225.60" stroke="#000" stroke-width="1.8" fill="none"/>
<line x1="1000.1" y1="225.60" x2="1013.7" y2="225.60" stroke="#000" stroke-width="1.8" fill="none"/>
<line x1="139.1" y1="258.40" x2="152.7" y2="258.40" stroke="#000" stroke-width="1.8" fill="none"/>
<line x1="1000.1" y1="258.40" x2="1013.7" y2="258.40" stroke="#000" stroke-width="1.8" fill="none"/>
<line x1="139.1" y1="291.00" x2="152.7" y2="291.00" stroke="#000" stroke-width="1.8" fill="none"/>
<line x1="1000.1" y1="291.00" x2="1013.7" y2="291.00" stroke="#000" stroke-width="1.8" fill="none"/>
<rect x="139.1" y="313.0" width="874.6" height="133.8" stroke="#000" stroke-width="1.8" fill="none"/>
<line x1="139.1" y1="313.40" x2="152.7" y2="313.40" stroke="#000" stroke-width="1.8" fill="none"/>
<line x1="1000.1" y1="313.40" x2="1013.7" y2="313.40" stroke="#000" stroke-width="1.8" fill="none"/>
<line x1="139.1" y1="346.20" x2="152.7" y2="346.20" stroke="#000" stroke-width="1.8" fill="none"/>
<line x1="1000.1" y1="346.20" x2="1013.7" y2="346.20" stroke="#000" stroke-width="1.8" fill="none"/>
<line x1="139.1" y1="378.85" x2="152.7" y2="378.85" stroke="#000" stroke-width="1.8" fill="none"/>
<line x1="1000.1" y1="378.85" x2="1013.7" y2="378.85" stroke="#000" stroke-width="1.8" fill="none"/>
<line x1="139.1" y1="411.45" x2="152.7" y2="411.45" stroke="#000" stroke-width="1.8" fill="none"/>
<line x1="1000.1" y1="411.45" x2="1013.7" y2="411.45" stroke="#000" stroke-width="1.8" fill="none"/>
<line x1="139.1" y1="444.10" x2="152.7" y2="444.10" stroke="#000" stroke-width="1.8" fill="none"/>
<line x1="1000.1" y1="444.10" x2="1013.7" y2="444.10" stroke="#000" stroke-width="1.8" fill="none"/>
<line x1="139.1" y1="4.6" x2="139.1" y2="18.2" stroke="#000" stroke-width="1.8" fill="none"/>
<line x1="139.1" y1="433.2" x2="139.1" y2="446.8" stroke="#000" stroke-width="1.8" fill="none"/>
<line x1="314.0" y1="4.6" x2="314.0" y2="18.2" stroke="#000" stroke-width="1.8" fill="none"/>
<line x1="314.0" y1="433.2" x2="314.0" y2="446.8" stroke="#000" stroke-width="1.8" fill="none"/>
<line x1="488.9" y1="4.6" x2="488.9" y2="18.2" stroke="#000" stroke-width="1.8" fill="none"/>
<line x1="488.9" y1="433.2" x2="488.9" y2="446.8" stroke="#000" stroke-width="1.8" fill="none"/>
<line x1="663.9" y1="4.6" x2="663.9" y2="18.2" stroke="#000" stroke-width="1.8" fill="none"/>
<line x1="663.9" y1="433.2" x2="663.9" y2="446.8" stroke="#000" stroke-width="1.8" fill="none"/>
<line x1="838.8" y1="4.6" x2="838.8" y2="18.2" stroke="#000" stroke-width="1.8" fill="none"/>
<line x1="838.8" y1="433.2" x2="838.8" y2="446.8" stroke="#000" stroke-width="1.8" fill="none"/>
<line x1="1013.7" y1="4.6" x2="1013.7" y2="18.2" stroke="#000" stroke-width="1.8" fill="none"/>
<line x1="1013.7" y1="433.2" x2="1013.7" y2="446.8" stroke="#000" stroke-width="1.8" fill="none"/>
<text x="131.5" y="12.6" font-size="17" text-anchor="end" fill="#000">2</text>
<text x="131.5" y="45.1" font-size="17" text-anchor="end" fill="#000">1</text>
<text x="131.5" y="78.1" font-size="17" text-anchor="end" fill="#000">0</text>
<text x="131.5" y="111.1" font-size="17" text-anchor="end" fill="#000">-1</text>
<text x="121.5" y="148.0" font-size="17" text-anchor="end" fill="#000">-2x10</text>
<text x="131.6" y="136.6" font-size="12" text-anchor="end" fill="#000">-6</text>
<text x="131.5" y="166.2" font-size="17" text-anchor="end" fill="#000">2</text>
<text x="131.5" y="199.0" font-size="17" text-anchor="end" fill="#000">1</text>
<text x="131.5" y="231.6" font-size="17" text-anchor="end" fill="#000">0</text>
<text x="131.5" y="264.4" font-size="17" text-anchor="end" fill="#000">-1</text>
<text x="121.5" y="301.2" font-size="17" text-anchor="end" fill="#000">-2x10</text>
<text x="131.6" y="289.8" font-size="12" text-anchor="end" fill="#000">-6</text>
<text x="131.5" y="319.5" font-size="17" text-anchor="end" fill="#000">2</text>
<text x="131.5" y="352.3" font-size="17" text-anchor="end" fill="#000">1</text>
<text x="131.5" y="385.0" font-size="17" text-anchor="end" fill="#000">0</text>
<text x="131.5" y="417.6" font-size="17" text-anchor="end" fill="#000">-1</text>
<text x="121.5" y="454.4" font-size="17" text-anchor="end" fill="#000">-2x10</text>
<text x="131.6" y="443.0" font-size="12" text-anchor="end" fill="#000">-6</text>
<text transform="translate(146.1,455.5) rotate(-90)" font-size="18" letter-spacing="0.25" text-anchor="end" fill="#000">2006/08/27</text>
<text transform="translate(321.0,455.5) rotate(-90)" font-size="18" letter-spacing="0.25" text-anchor="end" fill="#000">2006/08/28</text>
<text transform="translate(495.9,455.5) rotate(-90)" font-size="18" letter-spacing="0.25" text-anchor="end" fill="#000">2006/08/29</text>
<text transform="translate(670.9,455.5) rotate(-90)" font-size="18" letter-spacing="0.25" text-anchor="end" fill="#000">2006/08/30</text>
<text transform="translate(845.8,455.5) rotate(-90)" font-size="18" letter-spacing="0.25" text-anchor="end" fill="#000">2006/08/31</text>
<text transform="translate(1020.7,455.5) rotate(-90)" font-size="18" letter-spacing="0.25" text-anchor="end" fill="#000">2006/09/01</text>
<text x="576" y="609.8" font-size="21.6" font-weight="bold" text-anchor="middle" fill="#000">Date (JST)</text>
<text transform="translate(36.4,74.6) rotate(-90)" font-size="21.6" font-weight="bold" text-anchor="middle" fill="#000">Distance</text>
<text transform="translate(58.5,72.2) rotate(-90)" font-size="21.6" font-weight="bold" text-anchor="middle" fill="#000">change [m]</text>
<text transform="translate(85.0,72.2) rotate(-90)" font-size="21.6" font-weight="bold" text-anchor="middle" fill="#ff0000">GOTIC2</text>
<text transform="translate(14.0,225.0) rotate(-90)" font-size="21.6" font-weight="bold" text-anchor="middle" fill="#000">Distance</text>
<text transform="translate(36.5,223.0) rotate(-90)" font-size="21.6" font-weight="bold" text-anchor="middle" fill="#000">- 99.9213795&#160;&#160;[m]</text>
<text transform="translate(61.0,225.7) rotate(-90)" font-size="21.6" font-weight="bold" text-anchor="middle" fill="#0000ff">ADM</text>
<text transform="translate(36.4,381.0) rotate(-90)" font-size="21.6" font-weight="bold" text-anchor="middle" fill="#000">Distance</text>
<text transform="translate(58.5,378.5) rotate(-90)" font-size="21.6" font-weight="bold" text-anchor="middle" fill="#000">change [m]</text>
<text transform="translate(85.2,378.0) rotate(-90)" font-size="21.6" font-weight="bold" text-anchor="middle" fill="#00ff00">LSM</text>
<text x="590.5" y="45.2" font-size="21.6" font-weight="bold" text-anchor="middle" fill="#ff0000">GOTIC2</text>
<text x="586.5" y="203.0" font-size="21.6" font-weight="bold" text-anchor="middle" fill="#0000ff">ADM</text>
<text x="583.5" y="348.7" font-size="21.6" font-weight="bold" text-anchor="middle" fill="#00ff00">LSM</text>
<text x="839.5" y="189.8" font-size="21.6" text-anchor="middle" fill="#000">Interruption</text>
<line x1="835.6" y1="196" x2="835.6" y2="234" stroke="#000" stroke-width="3"/>
<polygon points="831.4,232.3 839.8,232.3 835.6,247.6" fill="#000"/>
</svg></body></html>
